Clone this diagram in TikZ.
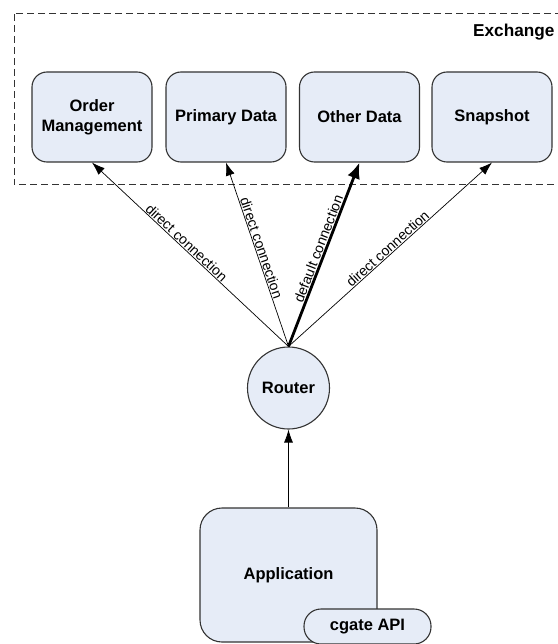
\documentclass[tikz,border=0pt]{standalone}
\usepackage{fontspec}
\setmainfont{Liberation Sans}
\usetikzlibrary{arrows.meta}
\definecolor{boxfill}{HTML}{E6ECF7}
\definecolor{boxline}{HTML}{333333}
\begin{document}
\begin{tikzpicture}[x=1pt,y=-1pt,
  box/.style={draw=boxline,fill=boxfill,line width=1.1pt,rounded corners=15pt,
    minimum width=120pt,minimum height=90pt,align=center,inner sep=2pt,
    font=\fontsize{16.5}{20}\selectfont\bfseries},
  conn/.style={draw=black,line width=0.7pt,-{Latex[length=13pt,width=9pt]}},
  lbl/.style={font=\fontsize{14}{16}\selectfont,sloped,above,inner sep=0.8pt}]
\useasboundingbox (0,0) rectangle (557,644);
\draw[boxline,line width=1pt,dash pattern=on 7pt off 4pt] (14,14) rectangle (590,185);
\node[anchor=base west,font=\fontsize{17.2}{20}\selectfont\bfseries,inner sep=0pt] (ex) at (473,37) {Exchange};
\node[box] (om) at (92,117) {Order\\Management};
\node[box] (pd) at (226,117) {Primary Data};
\node[box] (od) at (359.5,117) {Other Data};
\node[box] (ss) at (492,117) {Snapshot};
\node[box,circle,rounded corners=0pt,minimum width=82pt,minimum height=82pt] (r) at (288.5,388) {Router};
\node[box,minimum width=177pt,minimum height=134pt,rounded corners=22pt] (app) at (288.5,575) {Application};
\node[box,minimum width=127pt,minimum height=35pt,rounded corners=17pt] (api) at (367.5,626.5) {cgate API};
\draw[conn] (app.north) -- (r.south);
\draw[conn] (r.north) -- (om.south) node[lbl,pos=0.54] {direct connection};
\draw[conn] (r.north) -- (pd.south) node[lbl,pos=0.525] {direct connection};
\draw[conn,line width=2.8pt,-{Latex[length=16pt,width=13pt]}] (r.north) -- (od.south) node[lbl,pos=0.517] {default connection};
\draw[conn] (r.north) -- (ss.south) node[lbl,pos=0.507] {direct connection};
\end{tikzpicture}
\end{document}
